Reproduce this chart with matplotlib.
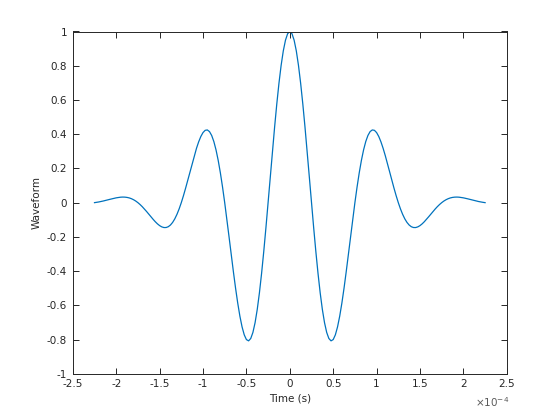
import numpy as np
import matplotlib
matplotlib.use('Agg')
import matplotlib.pyplot as plt

# sample times (s), every 2.5 us
timeVals = np.arange(-90, 91) * 2.5e-6

# waveform values, t = -2.25e-4 ... 2.25e-4
waveVals = [
    0.0000, 0.0019, 0.0041, 0.0066, 0.0095, 0.0125, 0.0158, 0.0191, 0.0223, 0.0254,
    0.0281, 0.0303, 0.0319, 0.0326, 0.0322, 0.0306, 0.0277, 0.0232, 0.0171, 0.0094,
    0.0000, -0.0110, -0.0234, -0.0371, -0.0517, -0.0669, -0.0823, -0.0972, -0.1113, -0.1238,
    -0.1341, -0.1415, -0.1455, -0.1453, -0.1406, -0.1307, -0.1155, -0.0947, -0.0683, -0.0366,
    0.0000, 0.0410, 0.0854, 0.1323, 0.1804, 0.2284, 0.2746, 0.3175, 0.3553, 0.3865,
    0.4094, 0.4226, 0.4248, 0.4150, 0.3925, 0.3569, 0.3083, 0.2472, 0.1745, 0.0915,
    0.0000, -0.0978, -0.1995, -0.3022, -0.4031, -0.4989, -0.5866, -0.6632, -0.7259, -0.7722,
    -0.8000, -0.8075, -0.7937, -0.7583, -0.7013, -0.6237, -0.5269, -0.4131, -0.2852, -0.1462,
    0.0000, 0.1495, 0.2982, 0.4417, 0.5761, 0.6973, 0.8018, 0.8865, 0.9489, 0.9871,
    1.0000,
    0.9871, 0.9489, 0.8865, 0.8018, 0.6973, 0.5761, 0.4417, 0.2982, 0.1495, 0.0000,
    -0.1462, -0.2852, -0.4131, -0.5269, -0.6237, -0.7013, -0.7583, -0.7937, -0.8075, -0.8000,
    -0.7722, -0.7259, -0.6632, -0.5866, -0.4989, -0.4031, -0.3022, -0.1995, -0.0978, 0.0000,
    0.0915, 0.1745, 0.2472, 0.3083, 0.3569, 0.3925, 0.4150, 0.4248, 0.4226, 0.4094,
    0.3865, 0.3553, 0.3175, 0.2746, 0.2284, 0.1804, 0.1323, 0.0854, 0.0410, 0.0000,
    -0.0366, -0.0683, -0.0947, -0.1155, -0.1307, -0.1406, -0.1453, -0.1455, -0.1415, -0.1341,
    -0.1238, -0.1113, -0.0972, -0.0823, -0.0669, -0.0517, -0.0371, -0.0234, -0.0110, 0.0000,
    0.0094, 0.0171, 0.0232, 0.0277, 0.0306, 0.0322, 0.0326, 0.0319, 0.0303, 0.0281,
    0.0254, 0.0223, 0.0191, 0.0158, 0.0125, 0.0095, 0.0066, 0.0041, 0.0019, 0.0000]

xTicks = [-2.5, -2, -1.5, -1, -0.5, 0, 0.5, 1, 1.5, 2, 2.5]
yTicks = [-1, -0.8, -0.6, -0.4, -0.2, 0, 0.2, 0.4, 0.6, 0.8, 1]

plt.rcParams['font.family'] = ['DejaVu Sans']
plt.rcParams['font.size'] = 7.5
fg = '#262626'

fig = plt.figure(figsize=(5.6, 4.2), dpi=100)
ax = fig.add_axes([0.13, 0.11, 0.775, 0.815])
ax.plot(timeVals, waveVals, color='#0072BD', lw=0.9)

ax.set_xlim(-2.5e-4, 2.5e-4)
ax.set_ylim(-1, 1)
ax.set_xticks([v * 1e-4 for v in xTicks])
ax.set_xticklabels(['%g' % v for v in xTicks])
ax.set_yticks(yTicks)
ax.set_yticklabels(['%g' % v for v in yTicks])
ax.tick_params(direction='in', length=4, width=0.7, colors=fg,
               top=True, right=True, pad=4)
for s in ax.spines.values():
    s.set_color(fg)
    s.set_linewidth(0.7)

ax.set_xlabel('Time (s)', color=fg, labelpad=3)
ax.set_ylabel('Waveform', color=fg, labelpad=4)
ax.text(1.005, -0.083, r'$\times10^{-4}$', transform=ax.transAxes,
        ha='right', va='center', color='#5a5a5a', fontsize=7.5)

fig.savefig('out.png', dpi=100)
